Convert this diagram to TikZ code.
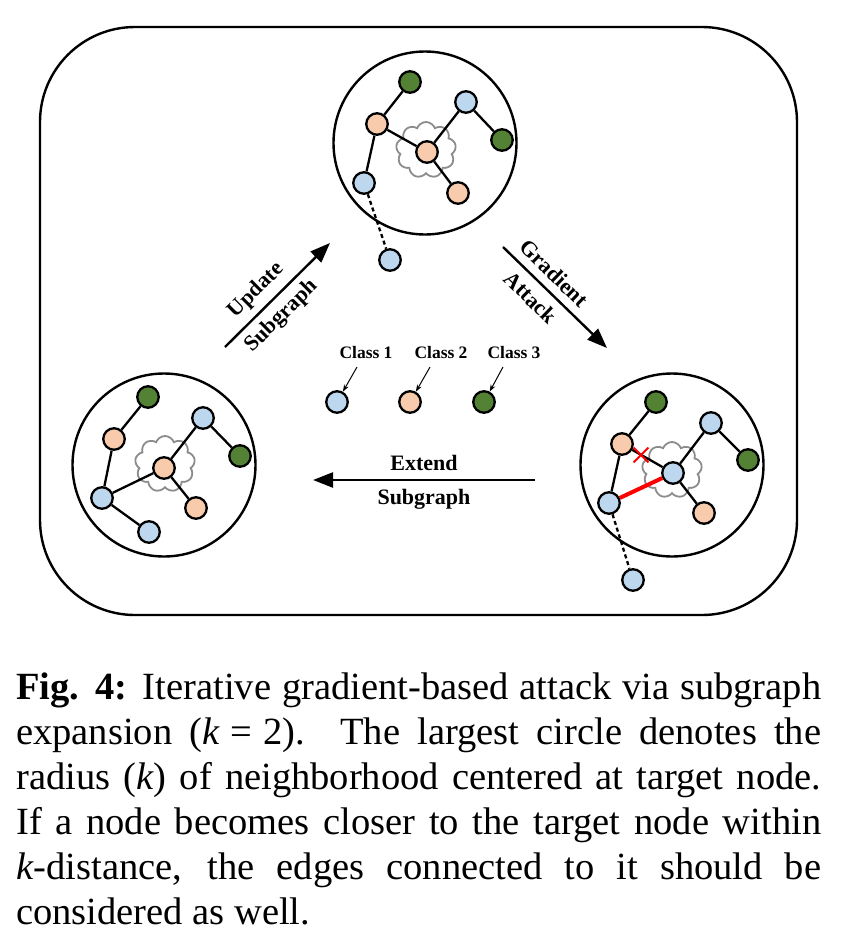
\documentclass[tikz,border=0pt]{standalone}
\usepackage{fontspec}
\setmainfont{Liberation Serif}
\usetikzlibrary{shapes.symbols,shapes.misc,arrows.meta}
\definecolor{cblue}{HTML}{BDD7EE}
\definecolor{corange}{HTML}{F8CBAD}
\definecolor{cgreen}{HTML}{548235}
\definecolor{cloudgray}{HTML}{8C8C8C}
\begin{document}
\begin{tikzpicture}[x=1pt,y=-1pt,
  gnode/.style={circle, draw=black, line width=2.3pt, minimum size=21.5pt, inner sep=0pt},
  nblue/.style={gnode, fill=cblue},
  norange/.style={gnode, fill=corange},
  ngreen/.style={gnode, fill=cgreen},
  bigcirc/.style={circle, draw=black, line width=2.4pt, minimum size=183pt, inner sep=0pt},
  cloudnode/.style={cloud, draw=cloudgray, line width=1.8pt, cloud puffs=9, cloud puff arc=140, aspect=1, minimum width=60pt, minimum height=56pt, inner sep=0pt},
  edge/.style={line width=2.3pt},
  dashedge/.style={line width=2.3pt, dash pattern=on 4pt off 3pt},
  redge/.style={line width=4pt, red},
  bigarrow/.style={line width=2.4pt, -{Triangle[length=20pt,width=15pt]}},
  legarrow/.style={line width=1pt, -{Stealth[length=7pt,width=5pt]}},
  lbl/.style={font=\fontsize{22}{26}\selectfont\bfseries, inner sep=2pt},
  classlbl/.style={font=\fontsize{17.5}{20}\selectfont\bfseries, inner sep=0pt}
]
\useasboundingbox (0,0) rectangle (844,940);
% outer frame
\node[draw=black, line width=2.4pt, rounded corners=95pt, minimum width=757pt, minimum height=588pt, inner sep=0pt] (frame) at (418.5,321) {};

% ---------- top graph ----------
\node[bigcirc] (t-big) at (425,143) {};
\node[cloudnode] (t-cloud) at (426,150) {};
\node[ngreen] (tg1) at (410,82) {};
\node[norange] (to1) at (377,124) {};
\node[nblue] (tb1) at (466,102) {};
\node[ngreen] (tg2) at (502,140) {};
\node[norange] (tc) at (427,152) {};
\node[nblue] (tb2) at (364,183) {};
\node[norange] (to2) at (458,193) {};
\node[nblue] (tb3) at (390,260) {};
\draw[edge] (tg1) -- (to1);
\draw[edge] (to1) -- (tc);
\draw[edge] (to1) -- (tb2);
\draw[edge] (tc) -- (tb1);
\draw[edge] (tb1) -- (tg2);
\draw[edge] (tc) -- (to2);
\draw[dashedge] (tb2) -- (tb3);

% ---------- left graph ----------
\node[bigcirc] (l-big) at (164,465) {};
\node[cloudnode] (l-cloud) at (165,464) {};
\node[ngreen] (lg1) at (148,397) {};
\node[norange] (lo1) at (114,439) {};
\node[nblue] (lb1) at (203,418) {};
\node[ngreen] (lg2) at (240,456) {};
\node[norange] (lc) at (164,468) {};
\node[nblue] (lb2) at (102,498) {};
\node[norange] (lo2) at (196,508) {};
\node[nblue] (lb3) at (149,532) {};
\draw[edge] (lg1) -- (lo1);
\draw[edge] (lo1) -- (lb2);
\draw[edge] (lb2) -- (lc);
\draw[edge] (lc) -- (lb1);
\draw[edge] (lb1) -- (lg2);
\draw[edge] (lc) -- (lo2);
\draw[edge] (lb2) -- (lb3);

% ---------- right graph ----------
\node[bigcirc] (r-big) at (672,465) {};
\node[cloudnode] (r-cloud) at (672,470) {};
\node[ngreen] (rg1) at (656,402) {};
\node[norange] (ro1) at (622,444) {};
\node[nblue] (rb1) at (711,423) {};
\node[ngreen] (rg2) at (748,460) {};
\node[nblue] (rc) at (673,473) {};
\node[nblue] (rb2) at (609,503) {};
\node[norange] (ro2) at (704,513) {};
\node[nblue] (rb3) at (633,580) {};
\draw[edge] (rg1) -- (ro1);
\draw[edge] (ro1) -- (rb2);
\draw[edge] (ro1) -- (rc);
\draw[edge] (rc) -- (rb1);
\draw[edge] (rb1) -- (rg2);
\draw[edge] (rc) -- (ro2);
\draw[redge] (rb2) -- (rc);
\draw[dashedge] (rb2) -- (rb3);
\node[cross out, draw=red, line width=1.8pt, minimum size=13pt, inner sep=0pt] (rx) at (641,455) {};

% ---------- arrows between graphs ----------
\coordinate (u1) at (225,347);
\coordinate (u2) at (330,243);
\draw[bigarrow] (u1) -- node[lbl, pos=0.42, sloped, above=5pt] {Update} node[lbl, pos=0.42, sloped, below=5pt] {Subgraph} (u2);
\coordinate (g1) at (503,247);
\coordinate (g2) at (607,348);
\draw[bigarrow] (g1) -- node[lbl, pos=0.38, sloped, above=6pt] {Gradient} node[lbl, pos=0.38, sloped, below=6pt] {Attack} (g2);
\coordinate (e1) at (535,480);
\coordinate (e2) at (313,480);
\draw[bigarrow] (e1) -- node[lbl, midway, above=6pt] {Extend} node[lbl, midway, below=6pt] {Subgraph} (e2);

% ---------- legend ----------
\node[classlbl] (k1) at (366,353) {Class 1};
\node[classlbl] (k2) at (441,353) {Class 2};
\node[classlbl] (k3) at (514,353) {Class 3};
\node[nblue] (c1) at (337,402) {};
\node[norange] (c2) at (410,402) {};
\node[ngreen] (c3) at (484,402) {};
\coordinate (a1) at (357,367);
\coordinate (a2) at (430,367);
\coordinate (a3) at (503,367);
\draw[legarrow] (a1) -- (c1);
\draw[legarrow] (a2) -- (c2);
\draw[legarrow] (a3) -- (c3);

% ---------- caption ----------
\node[anchor=north west, inner sep=0pt, align=left, font=\fontsize{38.5}{45}\selectfont] (cap) at (16,673) {%
\makebox[805pt][s]{\textbf{Fig. 4:} Iterative gradient-based attack via subgraph}\\
\makebox[805pt][s]{expansion (\textit{k}\;=\;2). The largest circle denotes the}\\
\makebox[805pt][s]{radius (\textit{k}) of neighborhood centered at target node.}\\
\makebox[805pt][s]{If a node becomes closer to the target node within}\\
\makebox[805pt][s]{\textit{k}-distance, the edges connected to it should be}\\
considered as well.};
\end{tikzpicture}
\end{document}
